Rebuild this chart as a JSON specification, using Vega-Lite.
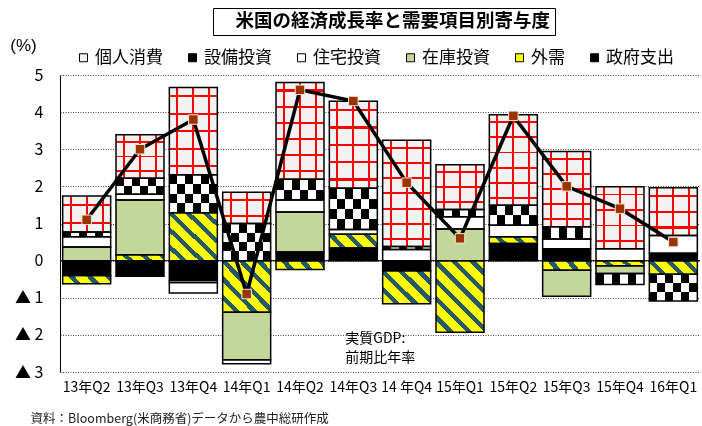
{
  "$schema": "https://vega.github.io/schema/vega-lite/v6.json",
  "width": 640,
  "height": 297,
  "autosize": {"type": "none"},
  "padding": {"left": 60, "top": 75, "right": 2, "bottom": 54},
  "background": "white",
  "config": {"view": {"stroke": null}, "font": "Noto Sans CJK JP", "axis": {"labelOverlap": false}, "axisY": {"labelOverlap": false}},
  "datasets": {
    "parts": [
      {"q": "13年Q2", "s": "個人消費", "v": 0.97}, {"q": "13年Q2", "s": "設備投資", "v": 0.13}, {"q": "13年Q2", "s": "住宅投資", "v": 0.27}, {"q": "13年Q2", "s": "在庫投資", "v": 0.37}, {"q": "13年Q2", "s": "外需", "v": -0.22}, {"q": "13年Q2", "s": "政府支出", "v": -0.40},
      {"q": "13年Q3", "s": "個人消費", "v": 1.17}, {"q": "13年Q3", "s": "設備投資", "v": 0.43}, {"q": "13年Q3", "s": "住宅投資", "v": 0.16}, {"q": "13年Q3", "s": "在庫投資", "v": 1.47}, {"q": "13年Q3", "s": "外需", "v": 0.16}, {"q": "13年Q3", "s": "政府支出", "v": -0.42},
      {"q": "13年Q4", "s": "個人消費", "v": 2.35}, {"q": "13年Q4", "s": "設備投資", "v": 1.02}, {"q": "13年Q4", "s": "住宅投資", "v": -0.28}, {"q": "13年Q4", "s": "在庫投資", "v": -0.06}, {"q": "13年Q4", "s": "外需", "v": 1.29}, {"q": "13年Q4", "s": "政府支出", "v": -0.53},
      {"q": "14年Q1", "s": "個人消費", "v": 0.84}, {"q": "14年Q1", "s": "設備投資", "v": 1.00}, {"q": "14年Q1", "s": "住宅投資", "v": -0.11}, {"q": "14年Q1", "s": "在庫投資", "v": -1.28}, {"q": "14年Q1", "s": "外需", "v": -1.39},
      {"q": "14年Q2", "s": "個人消費", "v": 2.61}, {"q": "14年Q2", "s": "設備投資", "v": 0.56}, {"q": "14年Q2", "s": "住宅投資", "v": 0.32}, {"q": "14年Q2", "s": "在庫投資", "v": 1.08}, {"q": "14年Q2", "s": "外需", "v": -0.24}, {"q": "14年Q2", "s": "政府支出", "v": 0.23},
      {"q": "14年Q3", "s": "個人消費", "v": 2.34}, {"q": "14年Q3", "s": "設備投資", "v": 1.11}, {"q": "14年Q3", "s": "住宅投資", "v": 0.13}, {"q": "14年Q3", "s": "外需", "v": 0.37}, {"q": "14年Q3", "s": "政府支出", "v": 0.34},
      {"q": "14 年Q4", "s": "個人消費", "v": 2.86}, {"q": "14 年Q4", "s": "設備投資", "v": 0.08}, {"q": "14 年Q4", "s": "住宅投資", "v": 0.30}, {"q": "14 年Q4", "s": "外需", "v": -0.89}, {"q": "14 年Q4", "s": "政府支出", "v": -0.27},
      {"q": "15年Q1", "s": "個人消費", "v": 1.20}, {"q": "15年Q1", "s": "設備投資", "v": 0.20}, {"q": "15年Q1", "s": "住宅投資", "v": 0.33}, {"q": "15年Q1", "s": "在庫投資", "v": 0.85}, {"q": "15年Q1", "s": "外需", "v": -1.93},
      {"q": "15年Q2", "s": "個人消費", "v": 2.44}, {"q": "15年Q2", "s": "設備投資", "v": 0.54}, {"q": "15年Q2", "s": "住宅投資", "v": 0.31}, {"q": "15年Q2", "s": "外需", "v": 0.18}, {"q": "15年Q2", "s": "政府支出", "v": 0.46},
      {"q": "15年Q3", "s": "個人消費", "v": 2.03}, {"q": "15年Q3", "s": "設備投資", "v": 0.33}, {"q": "15年Q3", "s": "住宅投資", "v": 0.26}, {"q": "15年Q3", "s": "在庫投資", "v": -0.70}, {"q": "15年Q3", "s": "外需", "v": -0.26}, {"q": "15年Q3", "s": "政府支出", "v": 0.32},
      {"q": "15年Q4", "s": "個人消費", "v": 1.67}, {"q": "15年Q4", "s": "設備投資", "v": -0.29}, {"q": "15年Q4", "s": "住宅投資", "v": 0.32}, {"q": "15年Q4", "s": "在庫投資", "v": -0.21}, {"q": "15年Q4", "s": "外需", "v": -0.14},
      {"q": "16年Q1", "s": "個人消費", "v": 1.28}, {"q": "16年Q1", "s": "設備投資", "v": -0.72}, {"q": "16年Q1", "s": "住宅投資", "v": 0.48}, {"q": "16年Q1", "s": "外需", "v": -0.37}, {"q": "16年Q1", "s": "政府支出", "v": 0.20}
    ],
    "gdp": [
      {"q": "13年Q2", "gdp": 1.1}, {"q": "13年Q3", "gdp": 3.0}, {"q": "13年Q4", "gdp": 3.8}, {"q": "14年Q1", "gdp": -0.9},
      {"q": "14年Q2", "gdp": 4.6}, {"q": "14年Q3", "gdp": 4.3}, {"q": "14 年Q4", "gdp": 2.1}, {"q": "15年Q1", "gdp": 0.6},
      {"q": "15年Q2", "gdp": 3.9}, {"q": "15年Q3", "gdp": 2.0}, {"q": "15年Q4", "gdp": 1.4}, {"q": "16年Q1", "gdp": 0.5}
    ]
  },
  "layer": [
    {
      "data": {"values": [{}]},
      "mark": {"type": "rule", "color": "black", "strokeWidth": 1},
      "encoding": {"y": {"datum": 0, "type": "quantitative", "scale": {"domain": [-3, 5], "nice": false}}}
    },
    {
      "data": {"name": "parts"},
      "transform": [
        {"calculate": "indexof(['政府支出','外需','在庫投資','住宅投資','設備投資','個人消費'], datum.s)", "as": "k"},
        {"stack": "v", "groupby": ["q"], "sort": [{"field": "k", "order": "ascending"}], "as": ["y0", "y1"]}
      ],
      "encoding": {
        "x": {
          "field": "q", "type": "nominal",
          "scale": {"domain": ["13年Q2", "13年Q3", "13年Q4", "14年Q1", "14年Q2", "14年Q3", "14 年Q4", "15年Q1", "15年Q2", "15年Q3", "15年Q4", "16年Q1"], "paddingInner": 0.1, "paddingOuter": 0.05},
          "axis": {
            "title": "資料：Bloomberg(米商務省)データから農中総研作成",
            "titleX": -30, "titleY": 46, "titleAlign": "left", "titleBaseline": "middle",
            "titleFont": "Noto Sans CJK JP", "titleFontSize": 12.5, "titleFontWeight": "normal", "titleColor": "#222222",
            "labelAngle": 0, "labelFont": "Noto Sans CJK JP", "labelFontSize": 14, "labelColor": "black", "labelPadding": 8,
            "ticks": false, "domain": false
          }
        },
        "y": {
          "field": "y0", "type": "quantitative",
          "scale": {"domain": [-3, 5], "nice": false, "zero": false},
          "axis": {
            "title": "(%)", "titleAngle": 0, "titleX": -37, "titleY": -30, "titleAlign": "center", "titleBaseline": "middle",
            "titleFont": "Liberation Sans", "titleFontSize": 17, "titleFontWeight": "normal", "titleColor": "black",
            "tickCount": 8, "tickMinStep": 1,
            "labelExpr": "datum.value < 0 ? '▲ ' + (-datum.value) : '' + datum.value",
            "labelOverlap": false, "labelSeparation": 0,
            "labelFont": "Noto Sans CJK JP", "labelFontSize": 16, "labelColor": "black", "labelPadding": 17,
            "ticks": false, "domainColor": "black", "domainWidth": 1,
            "grid": true, "gridColor": "#444444", "gridDash": [1, 1.5], "gridWidth": 1
          }
        },
        "y2": {"field": "y1"}
      },
      "layer": [
        {
          "mark": {"type": "bar", "stroke": null},
          "encoding": {
            "fill": {
              "field": "s", "type": "nominal",
              "scale": {"domain": ["個人消費", "設備投資", "住宅投資", "在庫投資", "外需", "政府支出"], "range": ["#f2f2f2", "#000000", "#ffffff", "#c4d79b", "#ffff00", "#000000"]},
              "legend": {
                "title": null, "orient": "none", "direction": "horizontal", "legendX": 15, "legendY": -26,
                "symbolType": "square", "symbolSize": 64, "symbolStrokeColor": "black", "symbolStrokeWidth": 1,
                "labelFont": "Noto Sans CJK JP", "labelFontSize": 17, "labelColor": "black", "labelOffset": 3,
                "columnPadding": 21, "padding": 0, "labelLimit": 200
              }
            }
          }
        },
        {
          "transform": [{"filter": "datum.s === '個人消費'"}],
          "mark": {"type": "bar", "stroke": null, "fill": {"gradient": "linear", "x1": 0, "y1": 0, "x2": 1, "y2": 0, "stops": [
            {"offset": 0, "color": "rgba(255,0,0,0)"}, {"offset": 0.146, "color": "rgba(255,0,0,0)"}, {"offset": 0.146, "color": "#ff0000"}, {"offset": 0.188, "color": "#ff0000"}, {"offset": 0.188, "color": "rgba(255,0,0,0)"},
            {"offset": 0.479, "color": "rgba(255,0,0,0)"}, {"offset": 0.479, "color": "#ff0000"}, {"offset": 0.521, "color": "#ff0000"}, {"offset": 0.521, "color": "rgba(255,0,0,0)"},
            {"offset": 0.813, "color": "rgba(255,0,0,0)"}, {"offset": 0.813, "color": "#ff0000"}, {"offset": 0.854, "color": "#ff0000"}, {"offset": 0.854, "color": "rgba(255,0,0,0)"}, {"offset": 1, "color": "rgba(255,0,0,0)"}]}}
        },
        {
          "transform": [{"filter": "datum.s === '個人消費' && abs(datum.v) < 1.05"}],
          "mark": {"type": "bar", "stroke": null, "fill": {"gradient": "linear", "x1": 0, "y1": 0, "x2": 0, "y2": 1, "stops": [
            {"offset": 0, "color": "rgba(255,0,0,0)"}, {"offset": 0.22, "color": "rgba(255,0,0,0)"}, {"offset": 0.22, "color": "#ff0000"}, {"offset": 0.28, "color": "#ff0000"}, {"offset": 0.28, "color": "rgba(255,0,0,0)"},
            {"offset": 0.72, "color": "rgba(255,0,0,0)"}, {"offset": 0.72, "color": "#ff0000"}, {"offset": 0.78, "color": "#ff0000"}, {"offset": 0.78, "color": "rgba(255,0,0,0)"}, {"offset": 1, "color": "rgba(255,0,0,0)"}]}}
        },
        {
          "transform": [{"filter": "datum.s === '個人消費' && abs(datum.v) >= 1.05 && abs(datum.v) < 1.45"}],
          "mark": {"type": "bar", "stroke": null, "fill": {"gradient": "linear", "x1": 0, "y1": 0, "x2": 0, "y2": 1, "stops": [
            {"offset": 0, "color": "rgba(255,0,0,0)"}, {"offset": 0.144, "color": "rgba(255,0,0,0)"}, {"offset": 0.144, "color": "#ff0000"}, {"offset": 0.189, "color": "#ff0000"}, {"offset": 0.189, "color": "rgba(255,0,0,0)"},
            {"offset": 0.478, "color": "rgba(255,0,0,0)"}, {"offset": 0.478, "color": "#ff0000"}, {"offset": 0.522, "color": "#ff0000"}, {"offset": 0.522, "color": "rgba(255,0,0,0)"},
            {"offset": 0.811, "color": "rgba(255,0,0,0)"}, {"offset": 0.811, "color": "#ff0000"}, {"offset": 0.856, "color": "#ff0000"}, {"offset": 0.856, "color": "rgba(255,0,0,0)"}, {"offset": 1, "color": "rgba(255,0,0,0)"}]}}
        },
        {
          "transform": [{"filter": "datum.s === '個人消費' && abs(datum.v) >= 1.45 && abs(datum.v) < 1.9"}],
          "mark": {"type": "bar", "stroke": null, "fill": {"gradient": "linear", "x1": 0, "y1": 0, "x2": 0, "y2": 1, "stops": [
            {"offset": 0, "color": "rgba(255,0,0,0)"}, {"offset": 0.109, "color": "rgba(255,0,0,0)"}, {"offset": 0.109, "color": "#ff0000"}, {"offset": 0.141, "color": "#ff0000"}, {"offset": 0.141, "color": "rgba(255,0,0,0)"},
            {"offset": 0.359, "color": "rgba(255,0,0,0)"}, {"offset": 0.359, "color": "#ff0000"}, {"offset": 0.391, "color": "#ff0000"}, {"offset": 0.391, "color": "rgba(255,0,0,0)"},
            {"offset": 0.609, "color": "rgba(255,0,0,0)"}, {"offset": 0.609, "color": "#ff0000"}, {"offset": 0.641, "color": "#ff0000"}, {"offset": 0.641, "color": "rgba(255,0,0,0)"},
            {"offset": 0.859, "color": "rgba(255,0,0,0)"}, {"offset": 0.859, "color": "#ff0000"}, {"offset": 0.891, "color": "#ff0000"}, {"offset": 0.891, "color": "rgba(255,0,0,0)"}, {"offset": 1, "color": "rgba(255,0,0,0)"}]}}
        },
        {
          "transform": [{"filter": "datum.s === '個人消費' && abs(datum.v) >= 1.9 && abs(datum.v) < 2.4"}],
          "mark": {"type": "bar", "stroke": null, "fill": {"gradient": "linear", "x1": 0, "y1": 0, "x2": 0, "y2": 1, "stops": [
            {"offset": 0, "color": "rgba(255,0,0,0)"}, {"offset": 0.0875, "color": "rgba(255,0,0,0)"}, {"offset": 0.0875, "color": "#ff0000"}, {"offset": 0.1125, "color": "#ff0000"}, {"offset": 0.1125, "color": "rgba(255,0,0,0)"},
            {"offset": 0.2875, "color": "rgba(255,0,0,0)"}, {"offset": 0.2875, "color": "#ff0000"}, {"offset": 0.3125, "color": "#ff0000"}, {"offset": 0.3125, "color": "rgba(255,0,0,0)"},
            {"offset": 0.4875, "color": "rgba(255,0,0,0)"}, {"offset": 0.4875, "color": "#ff0000"}, {"offset": 0.5125, "color": "#ff0000"}, {"offset": 0.5125, "color": "rgba(255,0,0,0)"},
            {"offset": 0.6875, "color": "rgba(255,0,0,0)"}, {"offset": 0.6875, "color": "#ff0000"}, {"offset": 0.7125, "color": "#ff0000"}, {"offset": 0.7125, "color": "rgba(255,0,0,0)"},
            {"offset": 0.8875, "color": "rgba(255,0,0,0)"}, {"offset": 0.8875, "color": "#ff0000"}, {"offset": 0.9125, "color": "#ff0000"}, {"offset": 0.9125, "color": "rgba(255,0,0,0)"}, {"offset": 1, "color": "rgba(255,0,0,0)"}]}}
        },
        {
          "transform": [{"filter": "datum.s === '個人消費' && abs(datum.v) >= 2.4 && abs(datum.v) < 2.75"}],
          "mark": {"type": "bar", "stroke": null, "fill": {"gradient": "linear", "x1": 0, "y1": 0, "x2": 0, "y2": 1, "stops": [
            {"offset": 0, "color": "rgba(255,0,0,0)"}, {"offset": 0.073, "color": "rgba(255,0,0,0)"}, {"offset": 0.073, "color": "#ff0000"}, {"offset": 0.094, "color": "#ff0000"}, {"offset": 0.094, "color": "rgba(255,0,0,0)"},
            {"offset": 0.24, "color": "rgba(255,0,0,0)"}, {"offset": 0.24, "color": "#ff0000"}, {"offset": 0.26, "color": "#ff0000"}, {"offset": 0.26, "color": "rgba(255,0,0,0)"},
            {"offset": 0.406, "color": "rgba(255,0,0,0)"}, {"offset": 0.406, "color": "#ff0000"}, {"offset": 0.427, "color": "#ff0000"}, {"offset": 0.427, "color": "rgba(255,0,0,0)"},
            {"offset": 0.573, "color": "rgba(255,0,0,0)"}, {"offset": 0.573, "color": "#ff0000"}, {"offset": 0.594, "color": "#ff0000"}, {"offset": 0.594, "color": "rgba(255,0,0,0)"},
            {"offset": 0.74, "color": "rgba(255,0,0,0)"}, {"offset": 0.74, "color": "#ff0000"}, {"offset": 0.76, "color": "#ff0000"}, {"offset": 0.76, "color": "rgba(255,0,0,0)"},
            {"offset": 0.906, "color": "rgba(255,0,0,0)"}, {"offset": 0.906, "color": "#ff0000"}, {"offset": 0.927, "color": "#ff0000"}, {"offset": 0.927, "color": "rgba(255,0,0,0)"}, {"offset": 1, "color": "rgba(255,0,0,0)"}]}}
        },
        {
          "transform": [{"filter": "datum.s === '個人消費' && abs(datum.v) >= 2.75"}],
          "mark": {"type": "bar", "stroke": null, "fill": {"gradient": "linear", "x1": 0, "y1": 0, "x2": 0, "y2": 1, "stops": [
            {"offset": 0, "color": "rgba(255,0,0,0)"}, {"offset": 0.062, "color": "rgba(255,0,0,0)"}, {"offset": 0.062, "color": "#ff0000"}, {"offset": 0.081, "color": "#ff0000"}, {"offset": 0.081, "color": "rgba(255,0,0,0)"},
            {"offset": 0.205, "color": "rgba(255,0,0,0)"}, {"offset": 0.205, "color": "#ff0000"}, {"offset": 0.224, "color": "#ff0000"}, {"offset": 0.224, "color": "rgba(255,0,0,0)"},
            {"offset": 0.348, "color": "rgba(255,0,0,0)"}, {"offset": 0.348, "color": "#ff0000"}, {"offset": 0.367, "color": "#ff0000"}, {"offset": 0.367, "color": "rgba(255,0,0,0)"},
            {"offset": 0.49, "color": "rgba(255,0,0,0)"}, {"offset": 0.49, "color": "#ff0000"}, {"offset": 0.51, "color": "#ff0000"}, {"offset": 0.51, "color": "rgba(255,0,0,0)"},
            {"offset": 0.633, "color": "rgba(255,0,0,0)"}, {"offset": 0.633, "color": "#ff0000"}, {"offset": 0.652, "color": "#ff0000"}, {"offset": 0.652, "color": "rgba(255,0,0,0)"},
            {"offset": 0.776, "color": "rgba(255,0,0,0)"}, {"offset": 0.776, "color": "#ff0000"}, {"offset": 0.795, "color": "#ff0000"}, {"offset": 0.795, "color": "rgba(255,0,0,0)"},
            {"offset": 0.919, "color": "rgba(255,0,0,0)"}, {"offset": 0.919, "color": "#ff0000"}, {"offset": 0.938, "color": "#ff0000"}, {"offset": 0.938, "color": "rgba(255,0,0,0)"}, {"offset": 1, "color": "rgba(255,0,0,0)"}]}}
        },
        {
          "transform": [{"filter": "datum.s === '設備投資'"}],
          "mark": {"type": "bar", "stroke": null, "fill": {"gradient": "linear", "x1": 0, "y1": 0, "x2": 1, "y2": 0, "stops": [
            {"offset": 0, "color": "#000000"}, {"offset": 0.1667, "color": "#000000"}, {"offset": 0.1667, "color": "#ffffff"}, {"offset": 0.3333, "color": "#ffffff"},
            {"offset": 0.3333, "color": "#000000"}, {"offset": 0.5, "color": "#000000"}, {"offset": 0.5, "color": "#ffffff"}, {"offset": 0.6667, "color": "#ffffff"},
            {"offset": 0.6667, "color": "#000000"}, {"offset": 0.8333, "color": "#000000"}, {"offset": 0.8333, "color": "#ffffff"}, {"offset": 1, "color": "#ffffff"}]}}
        },
        {
          "transform": [{"filter": "datum.s === '設備投資' && abs(datum.v) >= 0.38 && abs(datum.v) < 0.65"}],
          "mark": {"type": "bar", "stroke": null, "blend": "difference", "fill": {"gradient": "linear", "x1": 0, "y1": 0, "x2": 0, "y2": 1, "stops": [
            {"offset": 0, "color": "rgba(255,255,255,0)"}, {"offset": 0.5, "color": "rgba(255,255,255,0)"}, {"offset": 0.5, "color": "#ffffff"}, {"offset": 1, "color": "#ffffff"}]}}
        },
        {
          "transform": [{"filter": "datum.s === '設備投資' && abs(datum.v) >= 0.65 && abs(datum.v) < 0.9"}],
          "mark": {"type": "bar", "stroke": null, "blend": "difference", "fill": {"gradient": "linear", "x1": 0, "y1": 0, "x2": 0, "y2": 1, "stops": [
            {"offset": 0, "color": "rgba(255,255,255,0)"}, {"offset": 0.3333, "color": "rgba(255,255,255,0)"}, {"offset": 0.3333, "color": "#ffffff"}, {"offset": 0.6667, "color": "#ffffff"}, {"offset": 0.6667, "color": "rgba(255,255,255,0)"}, {"offset": 1, "color": "rgba(255,255,255,0)"}]}}
        },
        {
          "transform": [{"filter": "datum.s === '設備投資' && abs(datum.v) >= 0.9"}],
          "mark": {"type": "bar", "stroke": null, "blend": "difference", "fill": {"gradient": "linear", "x1": 0, "y1": 0, "x2": 0, "y2": 1, "stops": [
            {"offset": 0, "color": "rgba(255,255,255,0)"}, {"offset": 0.25, "color": "rgba(255,255,255,0)"}, {"offset": 0.25, "color": "#ffffff"}, {"offset": 0.5, "color": "#ffffff"},
            {"offset": 0.5, "color": "rgba(255,255,255,0)"}, {"offset": 0.75, "color": "rgba(255,255,255,0)"}, {"offset": 0.75, "color": "#ffffff"}, {"offset": 1, "color": "#ffffff"}]}}
        },
        {
          "transform": [{"filter": "datum.s === '外需' && abs(datum.v) < 0.3"}],
          "mark": {"type": "bar", "stroke": null, "fill": {"gradient": "linear", "x1": 0, "y1": 1, "x2": 1.129, "y2": 0.824, "stops": [
            {"offset": 0, "color": "#ffff00"}, {"offset": 0.2167, "color": "#ffff00"}, {"offset": 0.2167, "color": "#215968"}, {"offset": 0.3333, "color": "#215968"},
            {"offset": 0.3333, "color": "#ffff00"}, {"offset": 0.55, "color": "#ffff00"}, {"offset": 0.55, "color": "#215968"}, {"offset": 0.6667, "color": "#215968"},
            {"offset": 0.6667, "color": "#ffff00"}, {"offset": 0.8833, "color": "#ffff00"}, {"offset": 0.8833, "color": "#215968"}, {"offset": 1, "color": "#215968"}]}}
        },
        {
          "transform": [{"filter": "datum.s === '外需' && abs(datum.v) >= 0.3 && abs(datum.v) < 0.6"}],
          "mark": {"type": "bar", "stroke": null, "fill": {"gradient": "linear", "x1": 0, "y1": 1, "x2": 1.189, "y2": 0.661, "stops": [
            {"offset": 0, "color": "#ffff00"}, {"offset": 0.1857, "color": "#ffff00"}, {"offset": 0.1857, "color": "#215968"}, {"offset": 0.2857, "color": "#215968"},
            {"offset": 0.2857, "color": "#ffff00"}, {"offset": 0.4714, "color": "#ffff00"}, {"offset": 0.4714, "color": "#215968"}, {"offset": 0.5714, "color": "#215968"},
            {"offset": 0.5714, "color": "#ffff00"}, {"offset": 0.7571, "color": "#ffff00"}, {"offset": 0.7571, "color": "#215968"}, {"offset": 0.8571, "color": "#215968"},
            {"offset": 0.8571, "color": "#ffff00"}, {"offset": 1, "color": "#ffff00"}]}}
        },
        {
          "transform": [{"filter": "datum.s === '外需' && abs(datum.v) >= 0.6 && abs(datum.v) < 1.0"}],
          "mark": {"type": "bar", "stroke": null, "fill": {"gradient": "linear", "x1": 0, "y1": 1, "x2": 1.145, "y2": 0.21, "stops": [
            {"offset": 0, "color": "#ffff00"}, {"offset": 0.1444, "color": "#ffff00"}, {"offset": 0.1444, "color": "#215968"}, {"offset": 0.2222, "color": "#215968"},
            {"offset": 0.2222, "color": "#ffff00"}, {"offset": 0.3667, "color": "#ffff00"}, {"offset": 0.3667, "color": "#215968"}, {"offset": 0.4444, "color": "#215968"},
            {"offset": 0.4444, "color": "#ffff00"}, {"offset": 0.5889, "color": "#ffff00"}, {"offset": 0.5889, "color": "#215968"}, {"offset": 0.6667, "color": "#215968"},
            {"offset": 0.6667, "color": "#ffff00"}, {"offset": 0.8111, "color": "#ffff00"}, {"offset": 0.8111, "color": "#215968"}, {"offset": 0.8889, "color": "#215968"},
            {"offset": 0.8889, "color": "#ffff00"}, {"offset": 1, "color": "#ffff00"}]}}
        },
        {
          "transform": [{"filter": "datum.s === '外需' && abs(datum.v) >= 1.0 && abs(datum.v) < 1.6"}],
          "mark": {"type": "bar", "stroke": null, "fill": {"gradient": "linear", "x1": 0, "y1": 1, "x2": 0.98, "y2": -0.02, "stops": [
            {"offset": 0, "color": "#ffff00"}, {"offset": 0.1182, "color": "#ffff00"}, {"offset": 0.1182, "color": "#215968"}, {"offset": 0.1818, "color": "#215968"},
            {"offset": 0.1818, "color": "#ffff00"}, {"offset": 0.3, "color": "#ffff00"}, {"offset": 0.3, "color": "#215968"}, {"offset": 0.3636, "color": "#215968"},
            {"offset": 0.3636, "color": "#ffff00"}, {"offset": 0.4818, "color": "#ffff00"}, {"offset": 0.4818, "color": "#215968"}, {"offset": 0.5455, "color": "#215968"},
            {"offset": 0.5455, "color": "#ffff00"}, {"offset": 0.6636, "color": "#ffff00"}, {"offset": 0.6636, "color": "#215968"}, {"offset": 0.7273, "color": "#215968"},
            {"offset": 0.7273, "color": "#ffff00"}, {"offset": 0.8455, "color": "#ffff00"}, {"offset": 0.8455, "color": "#215968"}, {"offset": 0.9091, "color": "#215968"},
            {"offset": 0.9091, "color": "#ffff00"}, {"offset": 1, "color": "#ffff00"}]}}
        },
        {
          "transform": [{"filter": "datum.s === '外需' && abs(datum.v) >= 1.6"}],
          "mark": {"type": "bar", "stroke": null, "fill": {"gradient": "linear", "x1": 0, "y1": 1, "x2": 0.773, "y2": -0.152, "stops": [
            {"offset": 0, "color": "#ffff00"}, {"offset": 0.1, "color": "#ffff00"}, {"offset": 0.1, "color": "#215968"}, {"offset": 0.1538, "color": "#215968"},
            {"offset": 0.1538, "color": "#ffff00"}, {"offset": 0.2538, "color": "#ffff00"}, {"offset": 0.2538, "color": "#215968"}, {"offset": 0.3077, "color": "#215968"},
            {"offset": 0.3077, "color": "#ffff00"}, {"offset": 0.4077, "color": "#ffff00"}, {"offset": 0.4077, "color": "#215968"}, {"offset": 0.4615, "color": "#215968"},
            {"offset": 0.4615, "color": "#ffff00"}, {"offset": 0.5615, "color": "#ffff00"}, {"offset": 0.5615, "color": "#215968"}, {"offset": 0.6154, "color": "#215968"},
            {"offset": 0.6154, "color": "#ffff00"}, {"offset": 0.7154, "color": "#ffff00"}, {"offset": 0.7154, "color": "#215968"}, {"offset": 0.7692, "color": "#215968"},
            {"offset": 0.7692, "color": "#ffff00"}, {"offset": 0.8692, "color": "#ffff00"}, {"offset": 0.8692, "color": "#215968"}, {"offset": 0.9231, "color": "#215968"},
            {"offset": 0.9231, "color": "#ffff00"}, {"offset": 1, "color": "#ffff00"}]}}
        },
        {
          "mark": {"type": "bar", "fillOpacity": 0, "stroke": "black", "strokeWidth": 1.5}
        }
      ]
    },
    {
      "data": {"name": "gdp"},
      "encoding": {
        "x": {"field": "q", "type": "nominal", "sort": ["13年Q2", "13年Q3", "13年Q4", "14年Q1", "14年Q2", "14年Q3", "14 年Q4", "15年Q1", "15年Q2", "15年Q3", "15年Q4", "16年Q1"]},
        "y": {"field": "gdp", "type": "quantitative", "scale": {"domain": [-3, 5], "nice": false}}
      },
      "layer": [
        {"mark": {"type": "line", "color": "black", "strokeWidth": 3.5}},
        {
          "mark": {"type": "point", "filled": true, "fill": "#993300", "stroke": "#fbe5d6", "strokeWidth": 1, "size": 90, "opacity": 1},
          "encoding": {
            "shape": {
              "datum": "米国の経済成長率と需要項目別寄与度", "type": "nominal",
              "scale": {"range": ["square"]},
              "legend": {
                "title": null, "orient": "none", "legendX": 153, "legendY": -67,
                "symbolSize": 0, "symbolOpacity": 0, "symbolStrokeWidth": 0, "labelOffset": 0,
                "labelFont": "Noto Sans CJK JP", "labelFontSize": 18.5, "labelFontWeight": "bold", "labelColor": "black", "labelLimit": 600,
                "strokeColor": "black", "fillColor": "white", "padding": 4,
                "encode": {"legend": {"update": {"strokeWidth": {"value": 2}}}}
              }
            }
          }
        }
      ]
    },
    {
      "data": {"values": [{}]},
      "mark": {"type": "text", "text": ["実質GDP:", "前期比年率"], "align": "left", "baseline": "middle", "dx": -8, "lineHeight": 19, "font": "Noto Sans CJK JP", "fontSize": 14, "fill": "black"},
      "encoding": {
        "x": {"datum": "14年Q3", "type": "nominal"},
        "y": {"datum": -2.12, "type": "quantitative"}
      }
    }
  ]
}
